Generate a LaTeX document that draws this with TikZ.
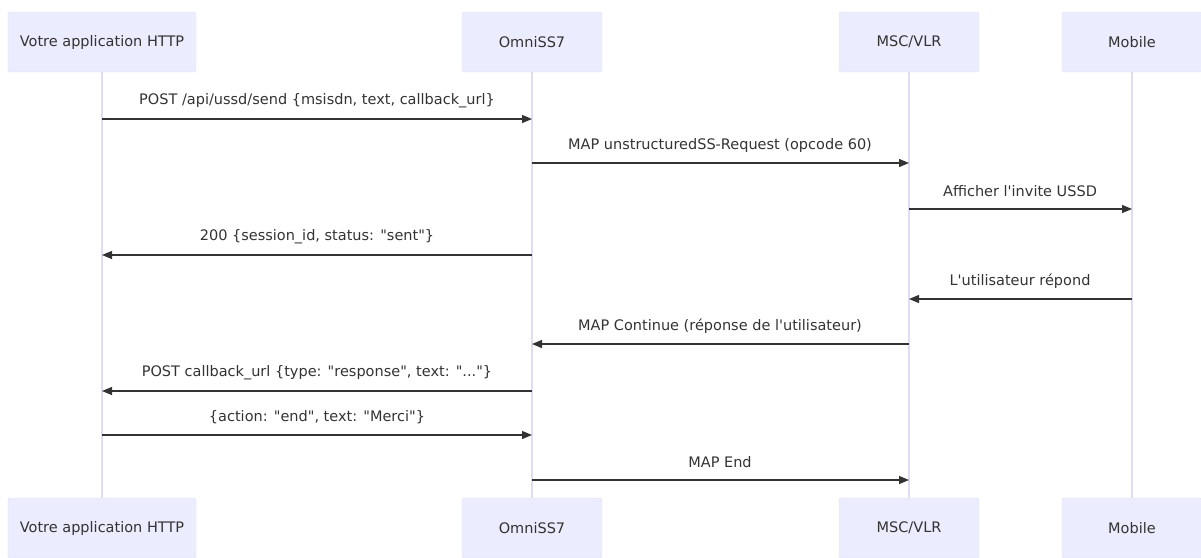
\documentclass[tikz,border=0pt]{standalone}
\usepackage{fontspec}
\setmainfont{DejaVu Sans}[Ligatures=TeXOff]
\usetikzlibrary{arrows.meta}
\definecolor{boxfill}{HTML}{ECECFF}
\definecolor{boxline}{HTML}{E2E2F6}
\definecolor{lifeline}{HTML}{E0DCF4}
\definecolor{txt}{HTML}{333333}
\tikzset{
  actor/.style={draw=boxline, fill=boxfill, rounded corners=2pt, minimum width=140pt, minimum height=60pt, inner sep=0pt, text=txt, font=\fontsize{14.5}{17}\selectfont},
  life/.style={draw=lifeline, line width=1.2pt},
  msg/.style={draw=txt, line width=1.2pt, -{Triangle[length=10pt,width=8pt]}},
  lbl/.style={text=txt, font=\fontsize{14.5}{17}\selectfont, inner sep=0pt}
}
\begin{document}
\begin{tikzpicture}[x=1pt,y=-1pt]
\useasboundingbox (0,0) rectangle (1201,557);
% top actors
\node[actor, minimum width=188pt] (a1) at (102,42) {Votre application HTTP};
\node[actor] (a2) at (532,42) {OmniSS7};
\node[actor] (a3) at (909,42) {MSC/VLR};
\node[actor] (a4) at (1132,42) {Mobile};
% bottom actors
\node[actor, minimum width=188pt] (b1) at (102,528) {Votre application HTTP};
\node[actor] (b2) at (532,528) {OmniSS7};
\node[actor] (b3) at (909,528) {MSC/VLR};
\node[actor] (b4) at (1132,528) {Mobile};
% lifelines
\draw[life] (a1.south) -- (b1.north);
\draw[life] (a2.south) -- (b2.north);
\draw[life] (a3.south) -- (b3.north);
\draw[life] (a4.south) -- (b4.north);
% messages
\coordinate (p1) at (102,119); \coordinate (q1) at (532,119);
\draw[msg] (p1) -- (q1);
\node[lbl] at (317,101) {POST /api/ussd/send \{msisdn, text, callback\_url\}};
\coordinate (p2) at (532,163); \coordinate (q2) at (909,163);
\draw[msg] (p2) -- (q2);
\node[lbl] at (720,145) {MAP unstructuredSS-Request (opcode 60)};
\coordinate (p3) at (909,209); \coordinate (q3) at (1132,209);
\draw[msg] (p3) -- (q3);
\node[lbl] at (1020,191) {Afficher l'invite USSD};
\coordinate (p4) at (532,255); \coordinate (q4) at (102,255);
\draw[msg] (p4) -- (q4);
\node[lbl] at (317,237) {200 \{session\_id, status: "sent"\}};
\coordinate (p5) at (1132,299); \coordinate (q5) at (909,299);
\draw[msg] (p5) -- (q5);
\node[lbl] at (1020,281) {L'utilisateur répond};
\coordinate (p6) at (909,344); \coordinate (q6) at (532,344);
\draw[msg] (p6) -- (q6);
\node[lbl] at (720,326) {MAP Continue (réponse de l'utilisateur)};
\coordinate (p7) at (532,391); \coordinate (q7) at (102,391);
\draw[msg] (p7) -- (q7);
\node[lbl] at (317,373) {POST callback\_url \{type: "response", text: "..."\}};
\coordinate (p8) at (102,435); \coordinate (q8) at (532,435);
\draw[msg] (p8) -- (q8);
\node[lbl] at (317,417) {\{action: "end", text: "Merci"\}};
\coordinate (p9) at (532,480); \coordinate (q9) at (909,480);
\draw[msg] (p9) -- (q9);
\node[lbl] at (720,462) {MAP End};
\end{tikzpicture}
\end{document}
